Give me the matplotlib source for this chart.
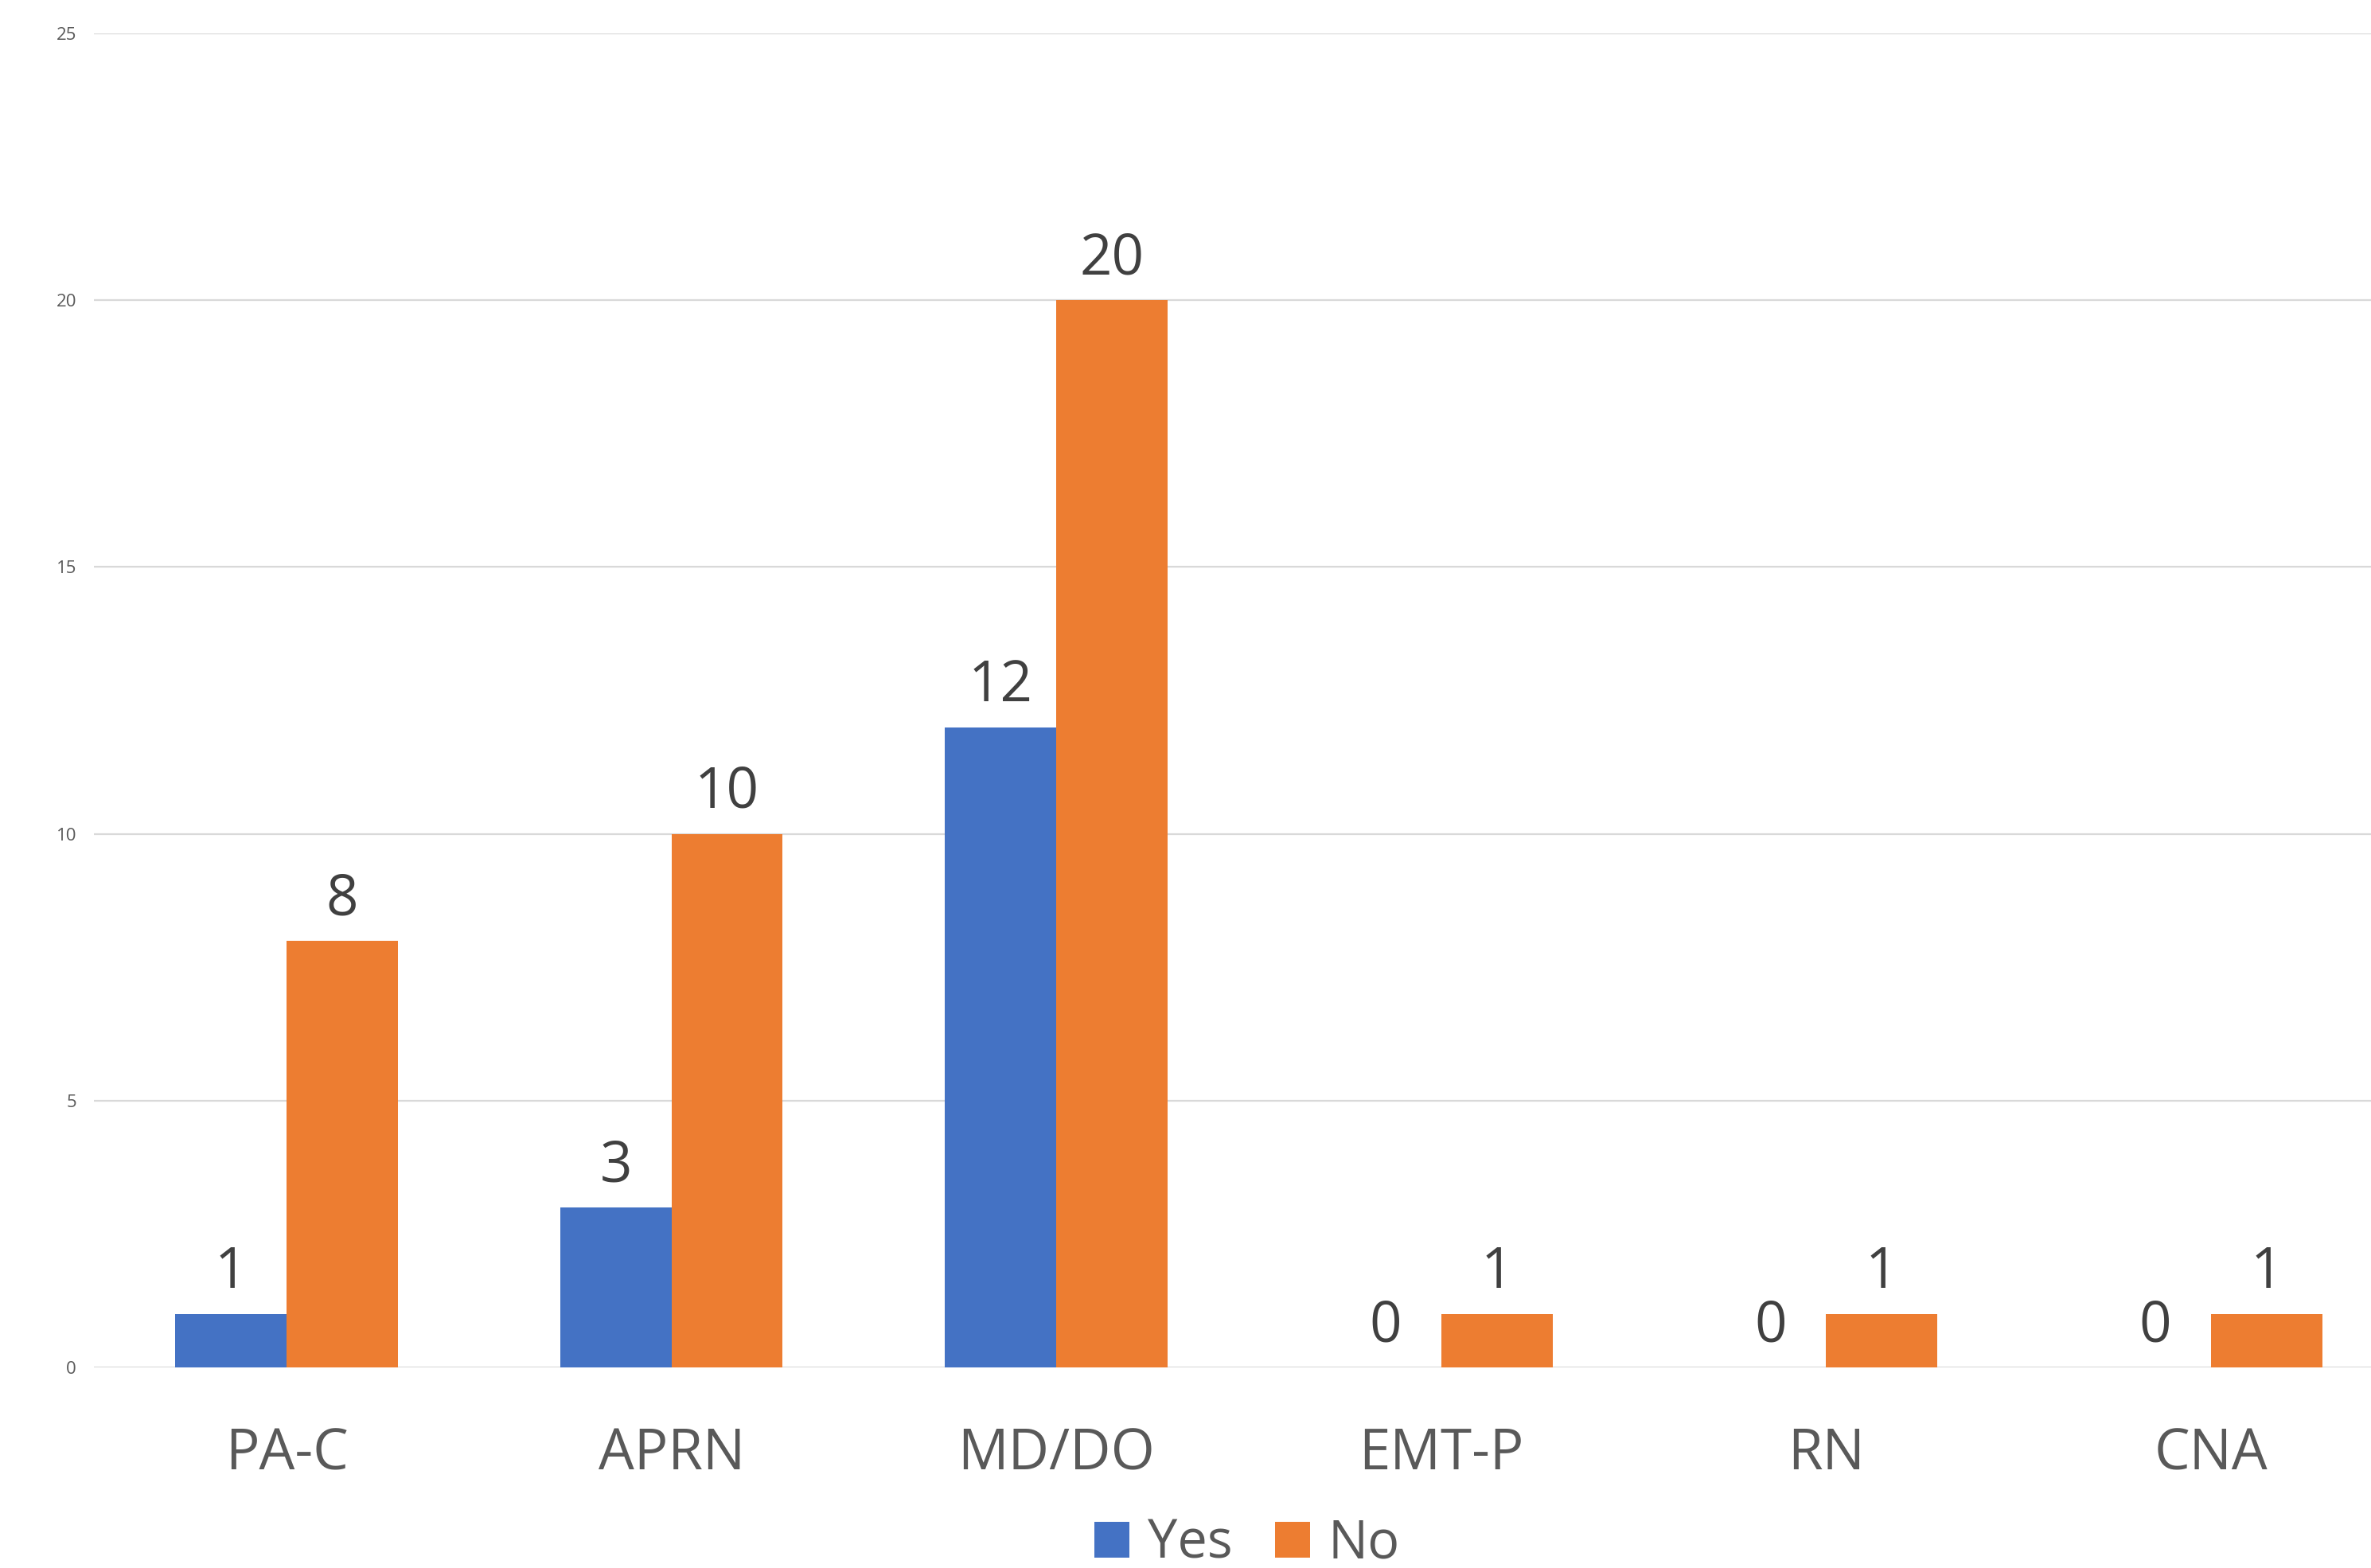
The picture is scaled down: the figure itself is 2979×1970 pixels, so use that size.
import numpy as np
import matplotlib.pyplot as plt
import matplotlib as mpl
from matplotlib.patches import Patch

mpl.rcParams['font.family'] = ['Open Sans', 'DejaVu Sans']

# dados
categorias = ['PA-C', 'APRN', 'MD/DO', 'EMT-P', 'RN', 'CNA']
sim = [1, 3, 12, 0, 0, 0]
nao = [8, 10, 20, 1, 1, 1]
series = ['Yes', 'No']

azul = '#4472C4'
laranja = '#ED7D31'

fig = plt.figure(figsize=(29.79, 19.70), dpi=100)
# eixo um pouco mais largo que a figura (a última categoria fica cortada na borda)
ax = fig.add_axes([0.0397, 0.1279, 0.974, 0.8508])

x = np.arange(len(categorias))
w = 0.289
b1 = ax.bar(x - w/2, sim, width=w, color=azul, zorder=3)
b2 = ax.bar(x + w/2, nao, width=w, color=laranja, zorder=3)

# rótulos com os valores em cima das barras
for barras, vals in [(b1, sim), (b2, nao)]:
    for r, v in zip(barras, vals):
        ax.annotate(str(v), (r.get_x() + r.get_width()/2, v),
                    xytext=(0, 23.5), textcoords='offset points',
                    ha='center', va='baseline', fontsize=51, color='#404040')

ax.set_xlim(-0.5, 5.5)
ax.set_ylim(0, 25)
ax.set_yticks([0, 5, 10, 15, 20, 25])
ax.set_xticks(x)
ax.set_xticklabels(categorias)
ax.tick_params(axis='x', length=0, pad=53, labelsize=51, labelcolor='#595959')
ax.tick_params(axis='y', length=0, pad=16, labelsize=16, labelcolor='#595959')

ax.grid(axis='y', color='#D9D9D9', linewidth=1.6, zorder=0)
for s in ax.spines.values():
    s.set_visible(False)

handles = [Patch(facecolor=azul), Patch(facecolor=laranja)]
fig.legend(handles, series, loc='center', bbox_to_anchor=(1567/2979, 30/1970),
           ncol=2, frameon=False, fontsize=48, labelcolor='#595959',
           handlelength=0.66, handleheight=0.66, handletextpad=0.34,
           columnspacing=0.8, borderpad=0)

fig.savefig('out.png', transparent=False)
